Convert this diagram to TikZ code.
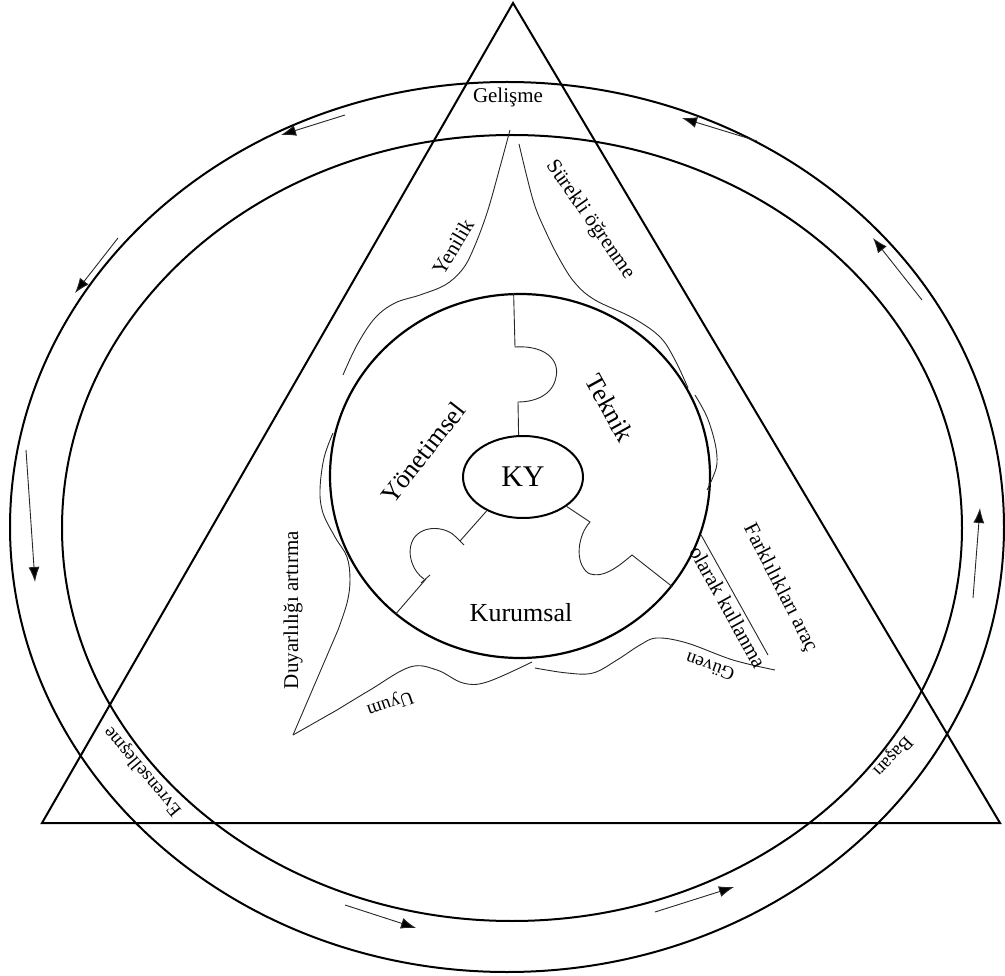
\documentclass[tikz,border=0pt]{standalone}
\usepackage{fontspec}
\setmainfont{Liberation Serif}
\usetikzlibrary{shapes.geometric,arrows.meta}
\begin{document}
\begin{tikzpicture}[x=1pt,y=-1pt,
  heavy/.style={line width=2pt},
  fine/.style={line width=0.9pt, black!85},
  flow/.style={line width=0.9pt, black!85, -{Latex[length=15pt,width=11pt,fill=black]}},
  lbl/.style={inner sep=0pt},
  fbig/.style={font=\fontsize{26}{30}\selectfont},
  fmid/.style={font=\fontsize{21}{25}\selectfont},
  fsml/.style={font=\fontsize{19}{23}\selectfont}
]
\useasboundingbox (0,0) rectangle (1005,976);
% outer band
\draw[heavy] (507,527) ellipse [x radius=497, y radius=445];
\draw[heavy] (512,528) ellipse [x radius=450, y radius=393];
% triangle
\draw[heavy, line join=miter] (513,3) -- (1000,823) -- (42,823) -- cycle;
% core circle and KY
\node[draw, ellipse, line width=2.2pt, minimum width=380pt, minimum height=364pt, inner sep=0pt] (core) at (520,476) {};
\node[draw, ellipse, line width=2pt, minimum width=120pt, minimum height=82pt, inner sep=0pt, font=\fontsize{30}{36}\selectfont] (ky) at (523,477) {KY};
% puzzle lines
\draw[fine] (core.92) -- (515,347) .. controls (545,345) and (560,360) .. (556,377)
  .. controls (553,395) and (535,402) .. (518,402) -- (ky.96);
\draw[fine] (ky.223) -- (460,541);
\draw[fine] (456,537) -- (464,545);
\draw[fine] (456,537) .. controls (447,527) and (424,524) .. (414,538)
  .. controls (405,552) and (413,572) .. (424,579);
\draw[fine] (421,583) -- (430,575);
\draw[fine] (426,579) -- (core.228);
\draw[fine] (ky.-34) -- (590,522) .. controls (578,535) and (574,562) .. (588,573)
  .. controls (603,580) and (620,565) .. (632,555) -- (core.-36);
% wavy curves
\draw[fine] plot[smooth, tension=0.6] coordinates {(510,130) (500,167) (487,213) (473,250) (462,270) (445,285) (420,295) (395,303) (375,318) (357,345) (343,375)};
\draw[fine] plot[smooth, tension=0.6] coordinates {(519,144) (533,200) (545,230) (560,260) (575,283) (595,300) (633,318) (660,337) (675,360) (688,388)};
\draw[fine] plot[smooth, tension=0.6] coordinates {(695,395) (707,417) (715,443) (717,463) (713,477) (707,490)};
\draw[fine] plot[smooth, tension=0.6] coordinates {(333,433) (324,458) (320,490) (323,513) (335,537) (347,557) (350,580) (347,603) (338,630)} -- (293,735);
\draw[fine] (293,735) -- (337,710) plot[smooth, tension=0.6] coordinates {(337,710) (370,690) (410,667) (437,670) (463,683) (487,682) (532,662)};
\draw[fine] plot[smooth, tension=0.6] coordinates {(535,668) (567,673) (593,673) (617,660) (640,645) (657,638) (687,643) (733,660) (775,670)};
\draw[fine] (core.-18) -- (768,655);
% arrows on the band
\draw[flow] (345,115) -- (281,135);
\draw[flow] (118,238) -- (75,293);
\draw[flow] (26,450) -- (35,582);
\draw[flow] (345,905) -- (416,928);
\draw[flow] (655,912) -- (734,887);
\draw[flow] (973,598) -- (980,508);
\draw[flow] (922,300) -- (873,238);
\draw[flow] (757,141) -- (682,118);
% labels
\node[lbl, fmid] (gel) at (508,97) {Gelişme};
\node[lbl, fmid, rotate=59] (yen) at (453,247) {Yenilik};
\node[lbl, fmid, rotate=-55] (sur) at (590,220) {Sürekli öğrenme};
\node[lbl, fbig, rotate=-61] (tek) at (610,408) {Teknik};
\node[lbl, fbig, rotate=52] (yon) at (423,453) {Yönetimsel};
\node[lbl, fbig] (kur) at (521,613) {Kurumsal};
\node[lbl, fmid, rotate=90] (duy) at (293,610) {Duyarlılığı artırma};
\node[lbl, fsml, rotate=199] (uyu) at (390,703) {Uyum};
\node[lbl, fsml, rotate=160] (guv) at (710,667) {Güven};
\node[lbl, fmid, rotate=-61] (ola) at (728,607) {olarak kullanma};
\node[lbl, fmid, rotate=-63] (far) at (780,588) {Farklılıkları araç};
\node[lbl, fsml, rotate=130] (evr) at (143,771) {Evrenselleşme};
\node[lbl, fsml, rotate=226.6] (bas) at (892,756) {Başarı};
\end{tikzpicture}
\end{document}
